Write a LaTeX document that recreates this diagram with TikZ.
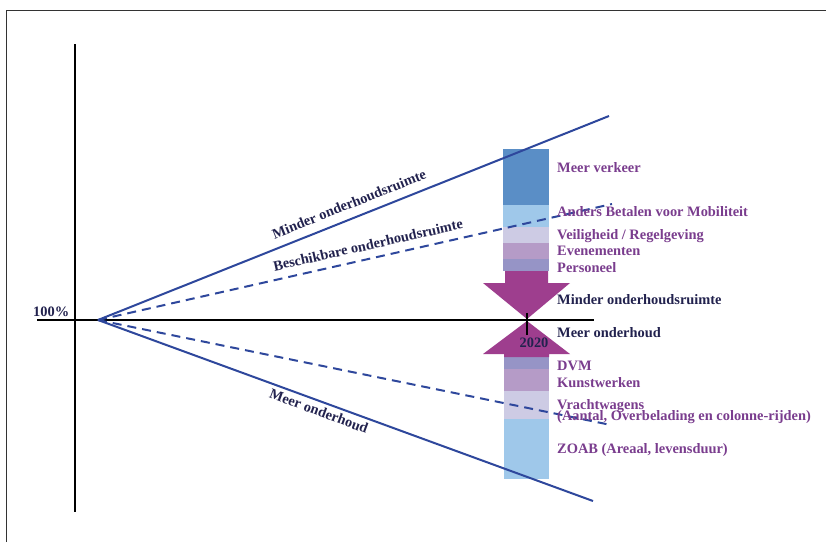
\documentclass[tikz,border=0pt]{standalone}
\usepackage{fontspec}
\setmainfont{Liberation Serif}
\definecolor{lineblue}{HTML}{2E479C}
\definecolor{barA}{HTML}{5A8EC6}
\definecolor{barB}{HTML}{9FC8EA}
\definecolor{barC}{HTML}{CDCBE4}
\definecolor{barD}{HTML}{B59BC7}
\definecolor{barE}{HTML}{9694C6}
\definecolor{arrowmag}{HTML}{9E3E8E}
\definecolor{txtpurple}{HTML}{7A3D8E}
\definecolor{txtnavy}{HTML}{22224E}
\tikzset{
  fanline/.style={draw=lineblue, line width=2pt},
  fandash/.style={draw=lineblue, line width=2pt, dash pattern=on 9pt off 6pt},
  axisline/.style={draw=black, line width=2pt},
  plabel/.style={anchor=base west, inner sep=0pt, text=txtpurple, font=\bfseries\fontsize{14.4}{14.4}\selectfont},
  nlabel/.style={anchor=base west, inner sep=0pt, text=txtnavy, font=\bfseries\fontsize{14.4}{14.4}\selectfont},
  rlabel/.style={inner sep=0pt, text=txtnavy, font=\bfseries\fontsize{14.4}{14.4}\selectfont},
}
\begin{document}
\begin{tikzpicture}[x=1pt,y=-1pt]
\useasboundingbox (0,0) rectangle (826,542);
\fill[white] (0,0) rectangle (826,542);
% frame
\draw[draw=black!80, line width=1pt] (6,542) -- (6,10) -- (826,10);
% axes
\coordinate (vtop) at (75,44);
\coordinate (vbot) at (75,512);
\coordinate (hl) at (37,320);
\coordinate (hr) at (594,320);
\draw[axisline] (vtop) -- (vbot);
\draw[axisline] (hl) -- (hr);
\node[nlabel] (pct) at (33,316) {100\%};
% bars upper
\fill[barA] (503,149) rectangle (549,205);
\fill[barB] (503,205) rectangle (549,227);
\fill[barC] (503,227) rectangle (549,243);
\fill[barD] (503,243) rectangle (549,259);
\fill[barE] (503,259) rectangle (549,271);
% bars lower
\fill[barE] (504,357) rectangle (549,369);
\fill[barD] (504,369) rectangle (549,391);
\fill[barC] (504,391) rectangle (549,419);
\fill[barB] (504,419) rectangle (549,479);
% arrows
\fill[arrowmag] (505,271) -- (548,271) -- (548,283) -- (570,283) -- (527,319) -- (483,283) -- (505,283) -- cycle;
\fill[arrowmag] (527,321) -- (570,354) -- (549,354) -- (549,357) -- (504,357) -- (504,354) -- (483,354) -- cycle;
% fan lines
\coordinate (O) at (98,320);
\coordinate (e1) at (609,116);
\coordinate (e2) at (612,204);
\coordinate (e3) at (611,425);
\coordinate (e4) at (593,501);
\draw[fanline] (O) -- (e1);
\draw[fandash] (O) -- (e2);
\draw[fandash] (O) -- (e3);
\draw[fanline] (O) -- (e4);
% tick and 2020
\coordinate (t1) at (527,313);
\coordinate (t2) at (527,335);
\draw[black, line width=2pt] (t1) -- (t2);
\node[rlabel] (yr) at (534,343) {2020};
% rotated labels
\node[rlabel, rotate=21.8] (l1) at (349,204) {Minder onderhoudsruimte};
\node[rlabel, rotate=12.7] (l2) at (368,245) {Beschikbare onderhoudsruimte};
\node[rlabel, rotate=-20.3] (l3) at (319,411) {Meer onderhoud};
% right labels
\node[plabel] (a1) at (557,172) {Meer verkeer};
\node[plabel] (a2) at (557,216) {Anders Betalen voor Mobiliteit};
\node[plabel] (a3) at (557,239) {Veiligheid / Regelgeving};
\node[plabel] (a4) at (557,255) {Evenementen};
\node[plabel] (a5) at (557,272) {Personeel};
\node[nlabel] (m1) at (557,304) {Minder onderhoudsruimte};
\node[nlabel] (m2) at (557,337) {Meer onderhoud};
\node[plabel] (b1) at (557,370) {DVM};
\node[plabel] (b2) at (557,387) {Kunstwerken};
\node[plabel] (b3) at (557,409) {Vrachtwagens};
\node[plabel] (b4) at (557,420) {(Aantal, Overbelading en colonne-rijden)};
\node[plabel] (b5) at (557,453) {ZOAB (Areaal, levensduur)};
\end{tikzpicture}
\end{document}
